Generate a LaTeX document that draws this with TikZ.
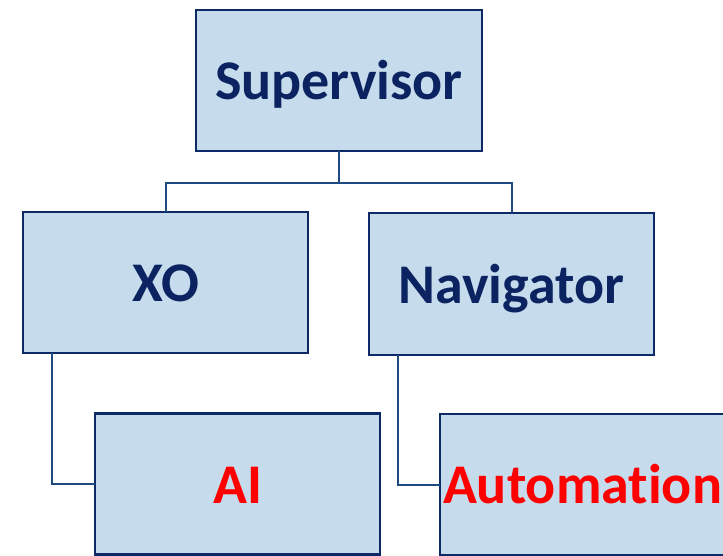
\documentclass[tikz,border=0pt]{standalone}
\usepackage{fontspec}
\setmainfont{Carlito}[Ligatures=NoCommon]
\definecolor{boxfill}{HTML}{C6DBEC}
\definecolor{boxline}{HTML}{0E2A66}
\definecolor{linkline}{HTML}{1F4A7E}
\definecolor{labelnavy}{HTML}{0B2361}
\definecolor{labelred}{HTML}{FF0000}
\begin{document}
\begin{tikzpicture}[x=1pt,y=-1pt,
  orgbox/.style={draw=boxline, line width=2.6pt, fill=boxfill, rectangle,
    minimum width=285pt, minimum height=141pt, inner sep=0pt, outer sep=0pt,
    text height=38pt, text depth=0pt,
    font=\fontsize{56}{60}\selectfont\bfseries, text=labelnavy},
  redlabel/.style={text=labelred},
  link/.style={draw=linkline, line width=2pt}]
  \useasboundingbox (0,0) rectangle (723,556);
  \clip (0,0) rectangle (723,556);
  % boxes
  \node[orgbox, minimum width=286pt] (sup) at (339,80.5) {Supervisor};
  \node[orgbox] (xo) at (165.5,282.5) {XO};
  \node[orgbox, minimum height=142pt] (nav) at (511.5,284) {Navigator};
  \node[orgbox, redlabel] (ai) at (237.5,484) {AI};
  \node[orgbox, redlabel] (auto) at (582.5,484.5) {Automation};
  % connectors
  \coordinate (bus) at (0,183);
  \draw[link] (sup.south) -- (sup.south |- bus) -| (xo.north);
  \draw[link] (sup.south |- bus) -| (nav.north);
  \draw[link] ([xshift=29pt]xo.south west) |- (ai.west);
  \draw[link] ([xshift=29pt]nav.south west) |- (auto.west);
\end{tikzpicture}
\end{document}
